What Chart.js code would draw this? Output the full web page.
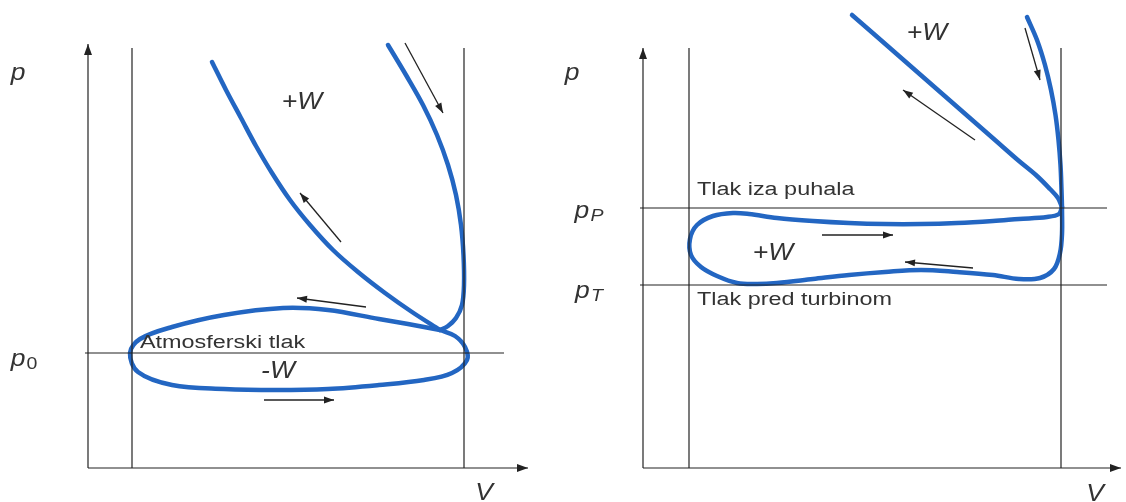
<!DOCTYPE html>
<html>
<head>
<meta charset="utf-8">
<script src="https://cdn.jsdelivr.net/npm/chart.js@4.4.1/dist/chart.umd.min.js"></script>
<style>
html, body { margin: 0; padding: 0; background: #fff; }
#wrap { position: relative; width: 1126px; height: 502px; overflow: hidden; }
#left { position: absolute; left: 0; top: 0; }
#right { position: absolute; left: 560px; top: 0; }
</style>
</head>
<body>
<div id="wrap">
<canvas id="left" width="560" height="502"></canvas>
<canvas id="right" width="566" height="502"></canvas>
</div>
<script>
// ---- data: [V, p] in arbitrary units, origin at the axes ----

// left diagram: naturally aspirated engine
const leftExpansion = [[31, 101.5], [34.5, 94.5], [38.25, 87.5], [42, 80.5], [46, 73.75], [50.5, 67], [55.5, 60.75],
    [61.25, 54.5], [67.5, 49], [74.25, 43.75], [81, 39], [88, 34.5]];
const leftCompression = [[75, 105.75], [79.5, 98.25], [83.75, 90.75], [87.25, 83.25], [90, 75.75], [92, 68.25], [93.25, 60.75],
    [93.875, 53.25], [94, 45.75], [93.5, 40.75], [92, 37.5], [90, 35.5], [88, 34.5]];
const leftLoop = [[88, 34.5], [80, 36], [72.75, 37.25], [60, 39.5], [48.75, 40], [34, 38.25], [21, 35.25], [13, 32.25], [10.5, 28.75],
    [12.5, 24], [21, 20.75], [34, 19.75], [47, 19.5], [60, 19.75], [72.75, 20.75], [84, 22], [91, 23.75], [94.75, 27], [94.25, 30.25],
    [91.75, 33], [88, 34.5]];
const leftVolumes = [11, 94];        // dead centres
const leftPressures = [28.75];       // p0

// right diagram: turbocharged engine
const rightExpansion = [[52.25, 113.25], [58, 108.25], [64, 103], [70, 97.75], [76, 92.5], [82, 87.25], [88, 82], [94, 76.75],
    [98.5, 73], [101.75, 69.75], [103.75, 67.5], [104.75, 65.25]];
const rightCompression = [[96, 112.75], [98.5, 107], [100.5, 100.75], [102, 94.5], [103.125, 88.25], [103.875, 82], [104.375, 75.75],
    [104.625, 69.5], [104.75, 65.25]];
const rightLoop = [[104.75, 65.25], [104, 63.5], [101, 62.75], [94, 62.25], [87.5, 61.75], [78.5, 61.25], [69.5, 61], [60.5, 61],
    [51.5, 61.25], [42.5, 61.75], [33.5, 62.5], [26.5, 63.5], [22.5, 63.75], [17.5, 63], [13.5, 60.75], [11.75, 57.25],
    [12, 53.25], [14.5, 50.25], [18.5, 48], [23.5, 46.25], [28.5, 46], [33.5, 46.25], [42.5, 47.25], [51.5, 48.25], [60.5, 49],
    [69.5, 49.5], [78.5, 49], [87.5, 48.25], [94, 47.25], [99.25, 47.5], [102.75, 49.75], [104.25, 53.75], [104.75, 58.5], [104.75, 65.25]];
const rightVolumes = [11.5, 104.5];
const rightPressures = [65, 45.75];  // pP, pT

// ---- annotations (arrows and labels) ----
const leftArrows = [
    [[79.25, 106.25], [88.75, 88.75]],
    [[63.25, 56.5], [53, 68.75]],
    [[69.5, 40.25], [52.25, 42.5]],
    [[44, 17], [61.5, 17]]
];
const rightArrows = [
    [[95.5, 110], [99.25, 97]],
    [[83, 82], [65, 94.5]],
    [[44.75, 58.25], [62.5, 58.25]],
    [[82.5, 50], [65.5, 51.5]]
];
const leftLabels = [
    { t: '+W', x: 53.5, y: 91.25, size: 23, italic: true, align: 'center' },
    { t: 'Atmosferski tlak', x: 13, y: 31.25, size: 18, align: 'left' },
    { t: '-W', x: 47.5, y: 24, size: 23, italic: true, align: 'center' },
    { t: 'p', x: -17.5, y: 98.5, size: 23, italic: true, align: 'center' },
    { t: 'p', sub: '0', subItalic: false, x: -16, y: 27, size: 23, italic: true, align: 'center' },
    { t: 'V', x: 99, y: -6.5, size: 23, italic: true, align: 'center' }
];
const rightLabels = [
    { t: '+W', x: 71, y: 108.5, size: 23, italic: true, align: 'center' },
    { t: '+W', x: 32.5, y: 53.5, size: 23, italic: true, align: 'center' },
    { t: 'Tlak iza puhala', x: 13.5, y: 69.5, size: 18, align: 'left' },
    { t: 'Tlak pred turbinom', x: 13.5, y: 42, size: 18, align: 'left' },
    { t: 'p', x: -17.75, y: 98.5, size: 23, italic: true, align: 'center' },
    { t: 'p', sub: 'P', subItalic: true, x: -13.5, y: 64, size: 23, italic: true, align: 'center' },
    { t: 'p', sub: 'T', subItalic: true, x: -13.5, y: 44, size: 23, italic: true, align: 'center' },
    { t: 'V', x: 113, y: -6.75, size: 23, italic: true, align: 'center' }
];

const FONT = '"Liberation Sans", Arial, sans-serif';
const BLUE = '#2366c2';
const STRETCH = 1.3;        // the source picture is horizontally stretched
const STRETCH_ITALIC = 1.15;

function toPoints(list) {
    return list.map(d => ({ x: d[0], y: d[1] }));
}

function curve(list) {
    return {
        data: toPoints(list), showLine: true, borderColor: BLUE, borderWidth: 4.5,
        pointRadius: 0, tension: 0.35, fill: false, borderCapStyle: 'round', borderJoinStyle: 'round'
    };
}

function thin(list) {
    return {
        data: toPoints(list), showLine: true, borderColor: '#222', borderWidth: 1.2,
        pointRadius: 0, tension: 0, fill: false
    };
}

function head(ctx, x1, y1, x2, y2, len, wid) {
    const a = Math.atan2(y2 - y1, x2 - x1);
    ctx.beginPath();
    ctx.moveTo(x2, y2);
    ctx.lineTo(x2 - len * Math.cos(a) + wid * Math.sin(a), y2 - len * Math.sin(a) - wid * Math.cos(a));
    ctx.lineTo(x2 - len * Math.cos(a) - wid * Math.sin(a), y2 - len * Math.sin(a) + wid * Math.cos(a));
    ctx.closePath();
    ctx.fill();
}

const overlay = {
    id: 'overlay',
    afterDatasetsDraw(chart, args, opts) {
        const ctx = chart.ctx;
        const px = v => chart.scales.x.getPixelForValue(v);
        const py = p => chart.scales.y.getPixelForValue(p);
        ctx.save();
        ctx.strokeStyle = '#222';
        ctx.fillStyle = '#222';

        // axis arrowheads
        opts.axes.forEach(a => {
            head(ctx, px(a[0][0]), py(a[0][1]), px(a[1][0]), py(a[1][1]), 11, 4);
        });

        // process arrows
        ctx.lineWidth = 1.3;
        opts.arrows.forEach(a => {
            const x1 = px(a[0][0]), y1 = py(a[0][1]), x2 = px(a[1][0]), y2 = py(a[1][1]);
            ctx.beginPath();
            ctx.moveTo(x1, y1);
            ctx.lineTo(x2, y2);
            ctx.stroke();
            head(ctx, x1, y1, x2, y2, 10, 3.5);
        });

        // labels
        ctx.fillStyle = '#333';
        ctx.textBaseline = 'middle';
        ctx.textAlign = 'left';
        opts.labels.forEach(l => {
            const k = l.italic ? STRETCH_ITALIC : STRETCH;
            const mainFont = (l.italic ? 'italic ' : '') + l.size + 'px ' + FONT;
            const subFont = (l.subItalic ? 'italic ' : '') + Math.round(l.size * 0.72) + 'px ' + FONT;
            ctx.font = mainFont;
            const w = ctx.measureText(l.t).width;
            let sw = 0;
            if (l.sub) {
                ctx.font = subFont;
                sw = ctx.measureText(l.sub).width + 1;
            }
            let x = px(l.x);
            const y = py(l.y);
            if (l.align === 'center') x -= (w + sw) * k / 2;
            ctx.save();
            ctx.translate(x, y);
            ctx.scale(k, 1);
            ctx.font = mainFont;
            ctx.fillText(l.t, 0, 0);
            if (l.sub) {
                ctx.font = subFont;
                ctx.fillText(l.sub, w + 1, l.size * 0.2);
            }
            ctx.restore();
        });
        ctx.restore();
    }
};

function makePanel(id, exp, comp, loop, volumes, pressures, arrows, labels, xRange, axisTop, axisRight, lineRight) {
    const datasets = [];
    // axes
    datasets.push(thin([[0, 0], [0, axisTop]]));
    datasets.push(thin([[0, 0], [axisRight, 0]]));
    volumes.forEach(v => datasets.push(thin([[v, 0], [v, 105]])));
    pressures.forEach(p => datasets.push(thin([[-0.75, p], [lineRight, p]])));
    datasets.push(curve(exp));
    datasets.push(curve(comp));
    datasets.push(curve(loop));

    return new Chart(document.getElementById(id), {
        type: 'scatter',
        data: { datasets: datasets },
        options: {
            responsive: false,
            animation: false,
            layout: { padding: 0 },
            scales: {
                x: { type: 'linear', display: false, min: xRange[0], max: xRange[1] },
                y: { type: 'linear', display: false, min: -8.5, max: 117 }
            },
            plugins: {
                legend: { display: false },
                tooltip: { enabled: false },
                overlay: {
                    axes: [[[0, 0], [0, axisTop]], [[0, 0], [axisRight, 0]]],
                    arrows: arrows,
                    labels: labels
                }
            }
        },
        plugins: [overlay]
    });
}

makePanel('left', leftExpansion, leftCompression, leftLoop, leftVolumes, leftPressures,
    leftArrows, leftLabels, [-22, 118], 106, 110, 104);
makePanel('right', rightExpansion, rightCompression, rightLoop, rightVolumes, rightPressures,
    rightArrows, rightLabels, [-20.75, 120.75], 105, 119.5, 116);
</script>
</body>
</html>
